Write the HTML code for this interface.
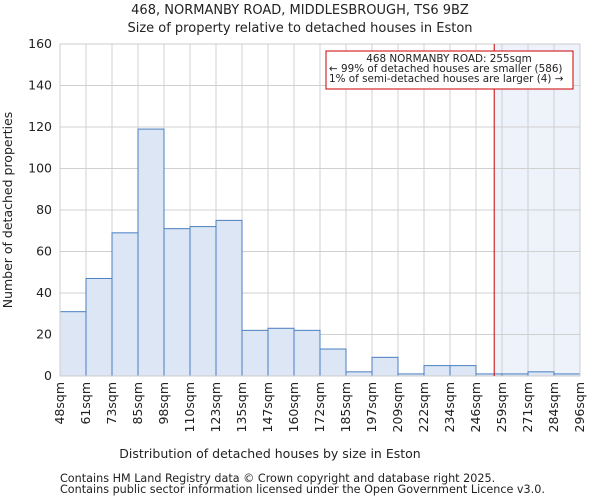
<!DOCTYPE html>
<html><head><meta charset="utf-8"><style>
body{margin:0;background:#fff;font-family:"DejaVu Sans","Liberation Sans",sans-serif;}
svg text{font-family:"DejaVu Sans","Liberation Sans",sans-serif;fill:#222;}
</style></head><body>
<svg id="chart" width="600" height="500">
<text x="300" y="14" font-size="13" text-anchor="middle">468, NORMANBY ROAD, MIDDLESBROUGH, TS6 9BZ</text>
<text x="300" y="32" font-size="13" text-anchor="middle">Size of property relative to detached houses in Eston</text>
<g id="grid"></g><g id="bars"></g><g id="axes"></g>
<text x="270" y="458" font-size="12.5" text-anchor="middle">Distribution of detached houses by size in Eston</text>
<text transform="translate(12,210) rotate(-90)" font-size="12.5" text-anchor="middle">Number of detached properties</text>
<text x="60" y="482" font-size="11.2" fill="#444">Contains HM Land Registry data © Crown copyright and database right 2025.</text>
<text x="60" y="493" font-size="11.2" fill="#444">Contains public sector information licensed under the Open Government Licence v3.0.</text>
</svg>
<script>
const labels=["48sqm","61sqm","73sqm","85sqm","98sqm","110sqm","123sqm","135sqm","147sqm","160sqm","172sqm","185sqm","197sqm","209sqm","222sqm","234sqm","246sqm","259sqm","271sqm","284sqm","296sqm"];
const counts=[31,47,69,119,71,72,75,22,23,22,13,2,9,1,5,5,1,1,2,1];
const yTicks=[0,20,40,60,80,100,120,140,160];
const markerBin=16.7;
const NS="http://www.w3.org/2000/svg";
const L=60,R=580,T=44,B=376,yMax=160;
const bw=(R-L)/counts.length;
const xs=i=>L+i*bw, ys=v=>B-(v/yMax)*(B-T);
function mk(tag,attrs,parent){const e=document.createElementNS(NS,tag);for(const k in attrs)e.setAttribute(k,attrs[k]);document.getElementById(parent).appendChild(e);return e;}
const mx=xs(markerBin);
const sh=mk('rect',{x:mx,y:T,width:R-mx,height:B-T,fill:'#eef2fb'},'grid');


for(let i=0;i<=counts.length;i++){mk('line',{x1:xs(i),x2:xs(i),y1:T,y2:B,stroke:'#d0d0d0','stroke-width':1},'grid');}
yTicks.forEach(t=>{mk('line',{x1:L,x2:R,y1:ys(t),y2:ys(t),stroke:'#d0d0d0','stroke-width':1},'grid');
const tx=mk('text',{x:L-8,y:ys(t)+4,'font-size':12.5,'text-anchor':'end'},'axes');tx.textContent=t;

});
counts.forEach((c,i)=>{const r=mk('rect',{x:xs(i),y:ys(c),width:bw,height:B-ys(c),fill:'#dce6f4',stroke:'#4a7fc1','stroke-width':1},'bars');

});
labels.forEach((l,i)=>{const x=xs(i)+4;const tx=mk('text',{transform:`translate(${x},${B+6}) rotate(-90)`,'font-size':12.5,'text-anchor':'end'},'axes');tx.textContent=l;

});
mk('rect',{x:L,y:T,width:R-L,height:B-T,fill:'none',stroke:'#ccc'},'axes');
const ml=mk('line',{x1:mx,x2:mx,y1:T,y2:B,stroke:'#cc0000','stroke-width':1},'axes');


const box=mk('rect',{x:326,y:51,width:247,height:38,fill:'#fff',stroke:'#cc0000','stroke-width':1},'axes');


["468 NORMANBY ROAD: 255sqm","← 99% of detached houses are smaller (586)","1% of semi-detached houses are larger (4) →"].forEach((s,i)=>{
const t=mk('text',{x:i==0?449:329,y:62+i*10,'font-size':10.4,'text-anchor':i==0?'middle':'start'},'axes');t.textContent=s;

});
</script>
</body></html>
